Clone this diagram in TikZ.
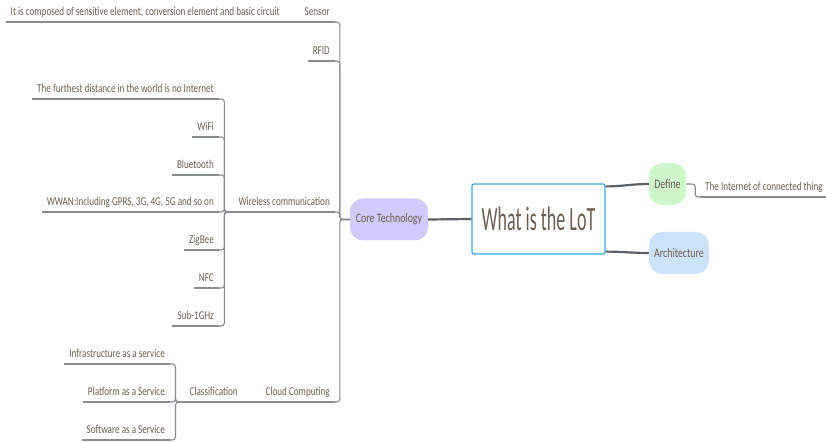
\documentclass[tikz,border=0pt]{standalone}
\usepackage{fontspec}
\setmainfont{Carlito}[FakeStretch=0.76]
\newfontfamily\titlefont{Carlito}[FakeStretch=0.53]
\definecolor{txt}{HTML}{6B5F53}
\definecolor{linegray}{HTML}{878C91}
\definecolor{maingray}{HTML}{5B6166}
\definecolor{rootblue}{HTML}{3DA7E0}
\definecolor{corefill}{HTML}{D0CBF9}
\definecolor{definefill}{HTML}{CEF6CB}
\definecolor{archfill}{HTML}{CDE3FB}
\begin{document}
\begin{tikzpicture}[x=1pt,y=-1pt,
  leaf/.style={font=\fontsize{12}{14}\selectfont, text=txt, inner xsep=5pt,
    inner ysep=0pt, text height=9pt, text depth=6pt, anchor=south east},
  topic/.style={font=\fontsize{13}{15}\selectfont, text=txt, rounded corners=13pt,
    inner sep=0pt, minimum height=42pt},
  link/.style={draw=linegray, line width=1.1pt, rounded corners=3pt},
  mainlink/.style={draw=maingray, line width=2.2pt}]
\useasboundingbox (0,0) rectangle (826,443);

% central topic and main branches
\node[draw=rootblue, line width=1.2pt, fill=white, rounded corners=2pt,
  minimum width=133pt, minimum height=70pt, inner sep=0pt, text=txt,
  font=\titlefont\fontsize{34}{40}\selectfont] (lot) at (538.5,219) {What is the LoT};
\node[topic, fill=corefill, minimum width=78pt] (core) at (389,219.5) {Core Technology};
\node[topic, fill=definefill, minimum width=37pt] (define) at (667.5,184) {Define};
\node[topic, fill=archfill, minimum width=60pt] (arch) at (679,253) {Architecture};

\draw[mainlink] (core.east) -- (lot.west);
\draw[mainlink] ([yshift=-3pt]lot.north east) to[out=0,in=180] (define.west);
\draw[mainlink] ([yshift=3pt]lot.south east) to[out=0,in=180] (arch.west);

% Define
\node[leaf, anchor=south west] (thing) at (700,197) {The Internet of connected thing};
\draw[link] (define.east) -- ++(9,0) |- (thing.south west);

% Core Technology branches
\node[leaf] (sensor) at (335,22) {Sensor};
\node[leaf] (compose) at (285,22) {It is composed of sensitive element, conversion element and basic circuit};
\node[leaf] (rfid) at (335,61) {RFID};
\node[leaf] (wireless) at (335,212) {Wireless communication};
\node[leaf] (cloud) at (335,402) {Cloud Computing};

\foreach \n in {sensor,rfid,wireless,cloud}
  \draw[link] (core.west) -- ++(-10,0) |- (\n.south east);
\draw[link] (sensor.south west) -- (compose.south east);

% wireless communication
\node[leaf] (far) at (219,99) {The furthest distance in the world is no Internet};
\node[leaf] (wifi) at (219,137) {WiFi};
\node[leaf] (bt) at (219,175) {Bluetooth};
\node[leaf] (wwan) at (219,212) {WWAN:Including GPRS, 3G, 4G, 5G and so on};
\node[leaf] (zigbee) at (219,250) {ZigBee};
\node[leaf] (nfc) at (219,288) {NFC};
\node[leaf] (subg) at (219,326) {Sub-1GHz};
\foreach \n in {far,wifi,bt,wwan,zigbee,nfc,subg}
  \draw[link] (wireless.south west) -- ++(-9,0) |- (\n.south east);

% cloud computing
\node[leaf] (class) at (243,402) {Classification};
\draw[link] (cloud.south west) -- (class.south east);
\node[leaf] (iaas) at (170,364) {Infrastructure as a service};
\node[leaf] (paas) at (170,402) {Platform as a Service};
\node[leaf] (saas) at (170,440) {Software as a Service};
\foreach \n in {iaas,paas,saas}
  \draw[link] (class.south west) -- ++(-9,0) |- (\n.south east);

% underlines of the text topics
\foreach \n in {sensor,compose,rfid,wireless,cloud,far,wifi,bt,wwan,zigbee,nfc,subg,class,iaas,paas,saas,thing}
  \draw[link] (\n.south west) -- (\n.south east);
\end{tikzpicture}
\end{document}
